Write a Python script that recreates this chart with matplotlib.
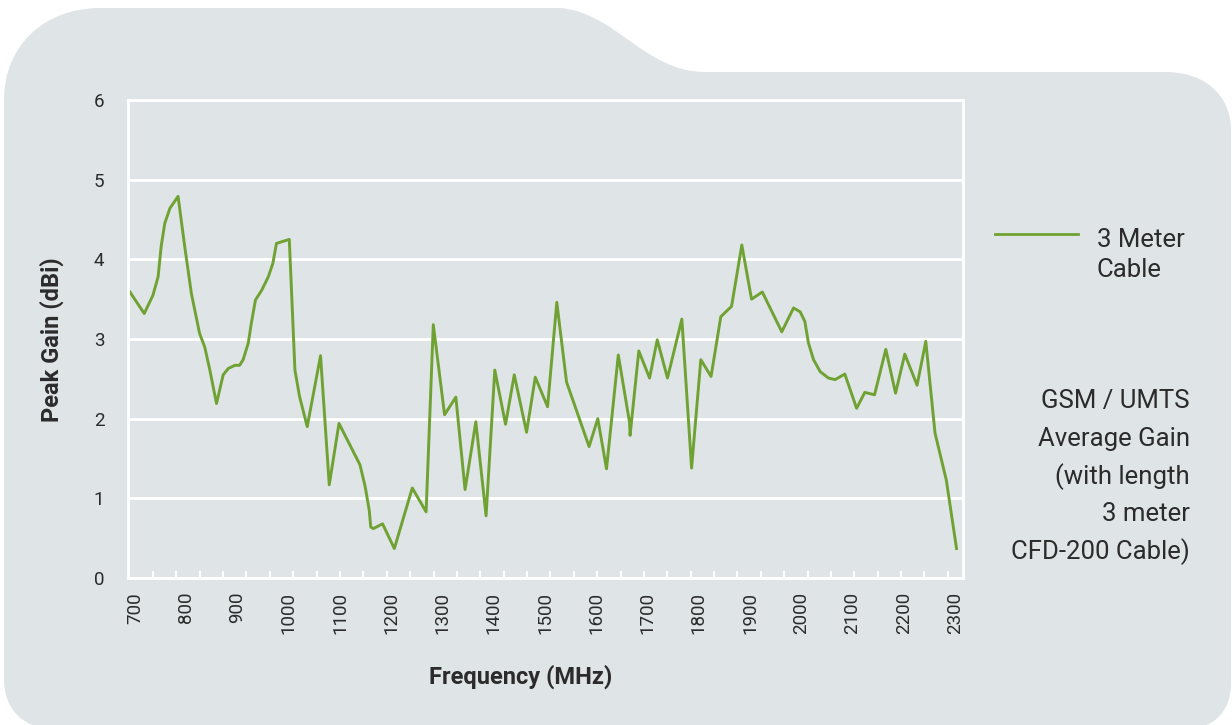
import matplotlib
matplotlib.use("Agg")
import matplotlib.pyplot as plt
import numpy as np
from matplotlib.path import Path
from matplotlib.patches import PathPatch

# data
freq = [690, 718, 735, 745, 751, 758, 768, 784, 797, 810, 826, 836, 846, 859,
        872, 882, 895, 904, 911, 921, 927, 935, 947, 960, 969, 976, 1001, 1005,
        1012, 1021, 1036, 1062, 1079, 1098, 1139, 1149, 1157, 1160, 1165, 1183,
        1206, 1241, 1268, 1282, 1304, 1326, 1344, 1365, 1385, 1402, 1423, 1440,
        1464, 1481, 1505, 1523, 1542, 1586, 1603, 1620, 1643, 1665, 1666, 1683,
        1704, 1719, 1739, 1767, 1786, 1804, 1824, 1843, 1864, 1884, 1903, 1924,
        1962, 1985, 1998, 2007, 2014, 2024, 2037, 2053, 2066, 2085, 2108, 2124,
        2143, 2165, 2184, 2202, 2226, 2243, 2261, 2283, 2303]
gain = [3.59, 3.32, 3.55, 3.78, 4.16, 4.45, 4.64, 4.79, 4.16, 3.57, 3.07, 2.90,
        2.61, 2.19, 2.55, 2.63, 2.67, 2.67, 2.74, 2.95, 3.20, 3.49, 3.61, 3.78,
        3.95, 4.20, 4.25, 3.66, 2.61, 2.28, 1.90, 2.79, 1.17, 1.94, 1.42, 1.15,
        0.85, 0.64, 0.62, 0.68, 0.37, 1.13, 0.83, 3.18, 2.05, 2.27, 1.11, 1.96,
        0.78, 2.61, 1.93, 2.55, 1.83, 2.52, 2.15, 3.46, 2.46, 1.65, 2.00, 1.37,
        2.80, 1.95, 1.79, 2.85, 2.51, 2.99, 2.51, 3.25, 1.38, 2.74, 2.53, 3.28,
        3.41, 4.18, 3.50, 3.59, 3.09, 3.39, 3.34, 3.22, 2.95, 2.74, 2.59, 2.51,
        2.49, 2.56, 2.13, 2.33, 2.30, 2.87, 2.32, 2.81, 2.42, 2.97, 1.82, 1.23,
        0.37]
xticks = list(range(700, 2301, 100))
yticks = [0, 1, 2, 3, 4, 5, 6]

green = "#6fa232"
bg_col = "#dfe4e7"
txt = "#2b2b2b"
plt.rcParams["font.family"] = ["Roboto", "DejaVu Sans"]

fig = plt.figure(figsize=(12.32, 7.25), dpi=100)

# background card shape in pixel space
bg = fig.add_axes([0, 0, 1, 1], zorder=0)
bg.set_xlim(0, 1232)
bg.set_ylim(725, 0)
bg.axis("off")
verts = [(4, 100), (4, 45), (45, 8), (100, 8),
         (560, 8),
         (615, 12), (645, 72), (705, 72),
         (1165, 72),
         (1210, 72), (1231, 100), (1231, 130),
         (1231, 683),
         (1231, 710), (1215, 728), (1190, 728),
         (50, 728),
         (20, 728), (4, 705), (4, 680),
         (4, 100)]
codes = [Path.MOVETO, Path.CURVE4, Path.CURVE4, Path.CURVE4,
         Path.LINETO,
         Path.CURVE4, Path.CURVE4, Path.CURVE4,
         Path.LINETO,
         Path.CURVE4, Path.CURVE4, Path.CURVE4,
         Path.LINETO,
         Path.CURVE4, Path.CURVE4, Path.CURVE4,
         Path.LINETO,
         Path.CURVE4, Path.CURVE4, Path.CURVE4,
         Path.CLOSEPOLY]
bg.add_patch(PathPatch(Path(verts, codes), facecolor=bg_col, edgecolor="none"))

# legend handle drawn by hand
bg.plot([995, 1078], [234, 234], color=green, lw=2)

ax = fig.add_axes([128 / 1232, 1 - 578 / 725, 835 / 1232, 478 / 725], zorder=1)
ax.set_facecolor("none")
ax.plot(freq, gain, color=green, lw=2.1, solid_joinstyle="round")

ax.set_xlim(686.3, 2315.6)
ax.set_ylim(0, 6)
ax.set_yticks(yticks)
ax.set_xticks(xticks)
ax.set_xticklabels([str(v) for v in xticks], rotation=90)
ax.set_xticks(np.linspace(735, 2286, 35), minor=True)
ax.tick_params(axis="x", which="major", length=0, pad=10, labelsize=13.5, labelcolor=txt)
ax.tick_params(axis="x", which="minor", direction="in", length=5, width=1.5, color="white")
ax.tick_params(axis="y", length=0, pad=17, labelsize=13.5, labelcolor=txt)
for s in ax.spines.values():
    s.set_color("white")
    s.set_linewidth(2)
ax.grid(axis="y", color="white", lw=2)
ax.set_axisbelow(True)

fig.text(52 / 1232, 1 - 340 / 725, "Peak Gain (dBi)", fontsize=17, fontweight="bold",
         color=txt, ha="center", va="center", rotation=90)
fig.text(521 / 1232, 1 - 677 / 725, "Frequency (MHz)", fontsize=17, fontweight="bold",
         color=txt, ha="center", va="center")

fig.text(1097 / 1232, 1 - 240 / 725, "3 Meter", fontsize=18.5, color=txt, va="center")
fig.text(1097 / 1232, 1 - 270 / 725, "Cable", fontsize=18.5, color=txt, va="center")

note = ["GSM / UMTS", "Average Gain", "(with length", "3 meter", "CFD-200 Cable)"]
for i, line in enumerate(note):
    fig.text(1190 / 1232, 1 - (401 + 37.6 * i) / 725, line, fontsize=18.5, color=txt,
             ha="right", va="center")

fig.savefig("out.png", dpi=100)
